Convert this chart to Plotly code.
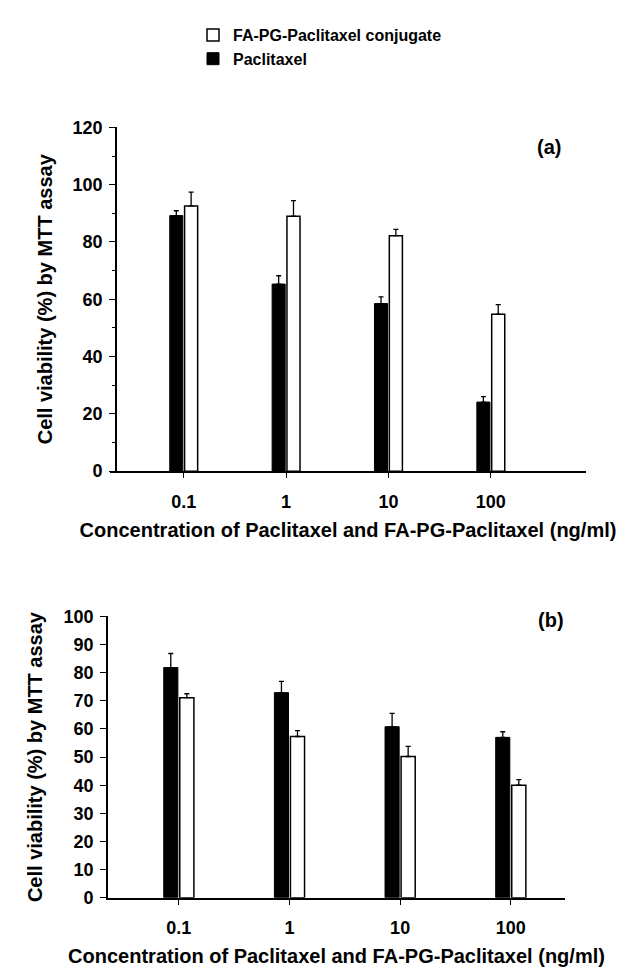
import plotly.graph_objects as go

# ---- data ----
categories = ["0.1", "1", "10", "100"]

a_paclitaxel = [89.2, 65.3, 58.5, 24.1]
a_paclitaxel_err = [1.7, 2.9, 2.3, 1.9]
a_conjugate = [92.6, 89.0, 82.2, 54.8]
a_conjugate_err = [4.8, 5.4, 2.2, 3.3]

b_paclitaxel = [81.8, 72.9, 60.8, 57.0]
b_paclitaxel_err = [5.0, 4.0, 4.7, 2.0]
b_conjugate = [71.1, 57.3, 50.2, 40.0]
b_conjugate_err = [1.4, 2.1, 3.6, 2.0]

name_pac = "Paclitaxel"
name_conj = "FA-PG-Paclitaxel conjugate"
y_title = "Cell viability (%) by MTT assay"
x_title = "Concentration of Paclitaxel and FA-PG-Paclitaxel (ng/ml)"

W, H = 627, 968
FONT = "Liberation Sans, Arial, sans-serif"


def px_x(p):
    return p / W


def px_y(p):
    return 1 - p / H


def err(arr):
    return dict(type="data", symmetric=False, array=arr, arrayminus=[0] * len(arr),
                color="black", thickness=1.3, width=2.5)


fig = go.Figure()

# panel (a)
fig.add_trace(go.Bar(x=categories, y=a_paclitaxel, name=name_pac, error_y=err(a_paclitaxel_err),
                     marker=dict(color="black", line=dict(color="black", width=1)),
                     xaxis="x", yaxis="y"))
fig.add_trace(go.Bar(x=categories, y=a_conjugate, name=name_conj, error_y=err(a_conjugate_err),
                     marker=dict(color="white", line=dict(color="black", width=1.5)),
                     xaxis="x", yaxis="y"))
# panel (b)
fig.add_trace(go.Bar(x=categories, y=b_paclitaxel, name=name_pac, error_y=err(b_paclitaxel_err),
                     marker=dict(color="black", line=dict(color="black", width=1)),
                     xaxis="x2", yaxis="y2", showlegend=False))
fig.add_trace(go.Bar(x=categories, y=b_conjugate, name=name_conj, error_y=err(b_conjugate_err),
                     marker=dict(color="white", line=dict(color="black", width=1.5)),
                     xaxis="x2", yaxis="y2", showlegend=False))

tickfont = dict(family=FONT, size=18, color="black", weight="bold")
titlefont = dict(family=FONT, size=20, color="black", weight="bold")

xcommon = dict(type="category", showline=True, linecolor="black", linewidth=1.8,
               ticks="outside", ticklen=5, tickwidth=1.3, tickcolor="black",
               tickfont=tickfont, showgrid=False, zeroline=False, ticklabelstandoff=8)
ycommon = dict(showline=True, linecolor="black", linewidth=1.8, ticks="outside",
               ticklen=6, tickwidth=1.3, tickcolor="black", tickfont=tickfont,
               showgrid=False, zeroline=False, ticklabelstandoff=3)

fig.update_layout(
    width=W, height=H,
    margin=dict(l=0, r=0, t=0, b=0),
    paper_bgcolor="white", plot_bgcolor="white",
    barmode="group", bargap=0.71, bargroupgap=0.12,
    showlegend=True,
    legend=dict(x=px_x(185), y=1, xanchor="left", yanchor="top",
                traceorder="reversed", font=dict(family=FONT, size=16, color="black", weight="bold"),
                bgcolor="rgba(0,0,0,0)", itemwidth=30, tracegroupgap=0),
    xaxis=dict(xcommon, domain=[px_x(102), px_x(578)], range=[-0.72, 3.93], anchor="y",
               title=dict(text=x_title, font=titlefont, standoff=12)),
    yaxis=dict(ycommon, domain=[px_y(462.7), px_y(111.7)], range=[0, 120],
               anchor="free", position=px_x(108),
               tickvals=[0, 20, 40, 60, 80, 100, 120],
               minor=dict(ticks="outside", ticklen=3, tickcolor="black", dtick=10, tickwidth=1.2),
               title=dict(text=y_title, font=titlefont, standoff=13)),
    xaxis2=dict(xcommon, domain=[px_x(100), px_x(557)], range=[-0.64, 3.49], anchor="y2",
                title=dict(text=x_title, font=titlefont, standoff=12)),
    yaxis2=dict(ycommon, domain=[px_y(898.3), px_y(611)], range=[0, 100], anchor="x2",
                tickvals=list(range(0, 101, 10)),
                title=dict(text=y_title, font=titlefont, standoff=15)),
    annotations=[
        dict(text="(a)", x=px_x(555), y=px_y(118), xref="paper", yref="paper",
             showarrow=False, font=dict(family=FONT, size=20, color="black", weight="bold")),
        dict(text="(b)", x=px_x(558), y=px_y(615), xref="paper", yref="paper",
             showarrow=False, font=dict(family=FONT, size=20, color="black", weight="bold")),
    ],
)

fig.write_html("out.html")
